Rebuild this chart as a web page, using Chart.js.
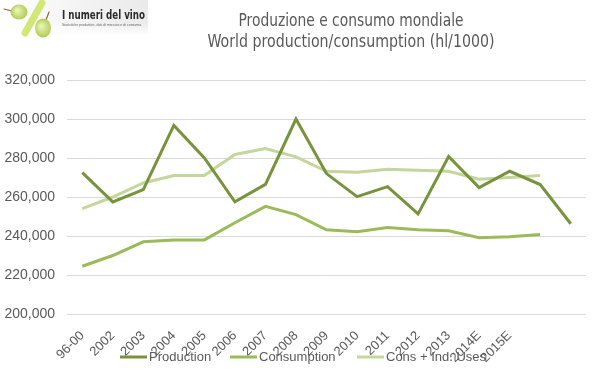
<!DOCTYPE html>
<html>
<head>
<meta charset="utf-8">
<script src="https://cdn.jsdelivr.net/npm/chart.js@4.4.1/dist/chart.umd.min.js"></script>
<style>
  html, body { margin: 0; padding: 0; background: #fff; }
  #wrap { width: 599px; height: 378px; position: relative; }
</style>
</head>
<body>
<div id="wrap"><canvas id="c" width="599" height="378"></canvas></div>
<script>
const categories = ['96-00','2002','2003','2004','2005','2006','2007','2008','2009','2010','2011','2012','2013','2014E','2015E','',''];
const production = [272500,257500,263800,296700,280000,257500,266500,300000,272000,260200,265300,251300,280800,264800,273200,266400,246300];
const consumption = [224500,230000,237000,238000,238000,246800,255200,251000,243200,242200,244300,243200,242700,239100,239600,240800];
const consIndUses = [254000,260000,267200,271000,271000,281800,284900,280600,273200,272700,274200,273700,273200,269100,270000,271000];
const yTicks = [200000,220000,240000,260000,280000,300000,320000];
const titleLines = ['Produzione e consumo mondiale','World production/consumption (hl/1000)'];
const seriesNames = ['Production','Consumption','Cons + Ind. Uses'];
const seriesColors = ['#77933c','#9bbb59','#c3d69b'];

const narrow = '"Liberation Sans Narrow", "DejaVu Sans Condensed", "Roboto Condensed", sans-serif';
const sans = '"Liberation Sans", Arial, sans-serif';

// draw text squeezed horizontally to a target width
function fitText(ctx, text, x, y, targetW, align) {
  const w = ctx.measureText(text).width;
  const k = Math.min(1, targetW / w);
  ctx.save();
  ctx.translate(x, y);
  ctx.scale(k, 1);
  ctx.textAlign = align;
  ctx.fillText(text, 0, 0);
  ctx.restore();
}

const decorPlugin = {
  id: 'decor',
  beforeDraw(chart) {
    const ctx = chart.ctx;
    ctx.save();
    // logo background
    const g = ctx.createLinearGradient(0, 0, 148, 0);
    g.addColorStop(0, '#ffffff');
    g.addColorStop(1, '#eaeaea');
    ctx.fillStyle = g;
    ctx.fillRect(0, 0, 148, 34);
    const g2 = ctx.createLinearGradient(0, 22, 0, 36);
    g2.addColorStop(0, 'rgba(255,255,255,0)');
    g2.addColorStop(1, 'rgba(255,255,255,1)');
    ctx.fillStyle = g2;
    ctx.fillRect(0, 22, 148, 14);
    // diagonal bar
    ctx.strokeStyle = '#d2e775';
    ctx.lineWidth = 7;
    ctx.lineCap = 'round';
    ctx.beginPath();
    ctx.moveTo(42, 3);
    ctx.lineTo(25, 33);
    ctx.stroke();
    // stems
    ctx.strokeStyle = '#8a6a3a';
    ctx.lineWidth = 1.2;
    ctx.beginPath();
    ctx.moveTo(4, 9); ctx.lineTo(12, 11);
    ctx.moveTo(46, 20); ctx.lineTo(49, 12);
    ctx.stroke();
    // grapes
    const grape = (x, y, rx, ry) => {
      const rg = ctx.createRadialGradient(x - 2, y - 2, 1, x, y, Math.max(rx, ry));
      rg.addColorStop(0, '#e8f3b2');
      rg.addColorStop(1, '#aecb52');
      ctx.fillStyle = rg;
      ctx.beginPath();
      ctx.ellipse(x, y, rx, ry, 0, 0, Math.PI * 2);
      ctx.fill();
    };
    grape(19, 12, 8.5, 7.5);
    grape(43, 28, 8, 9.5);
    // logo text
    ctx.fillStyle = '#2b2b2b';
    ctx.font = 'bold 12px ' + narrow;
    ctx.textBaseline = 'alphabetic';
    fitText(ctx, 'I numeri del vino', 62, 18.5, 83, 'left');
    ctx.fillStyle = '#666';
    ctx.font = '3.5px ' + sans;
    fitText(ctx, 'Statistiche produttive, dati di mercato e di consumo.', 62, 25.5, 83, 'left');
    // title
    ctx.fillStyle = '#595959';
    ctx.font = '17px ' + narrow;
    fitText(ctx, titleLines[0], 351, 25.5, 225, 'center');
    fitText(ctx, titleLines[1], 351, 47, 287, 'center');
    ctx.restore();
  },
  afterDraw(chart) {
    const ctx = chart.ctx;
    ctx.save();
    ctx.font = '13px ' + sans;
    ctx.textBaseline = 'middle';
    ctx.textAlign = 'left';
    const y = 357;
    const starts = [120, 230, 357];
    chart.data.datasets.forEach((ds, i) => {
      const x = starts[i];
      ctx.strokeStyle = ds.borderColor;
      ctx.lineWidth = 3;
      ctx.beginPath();
      ctx.moveTo(x, y);
      ctx.lineTo(x + 27, y);
      ctx.stroke();
      ctx.fillStyle = '#595959';
      ctx.fillText(ds.label, x + 29, y);
    });
    ctx.restore();
  }
};

new Chart(document.getElementById('c'), {
  type: 'line',
  data: {
    labels: categories,
    datasets: [
      { label: seriesNames[0], data: production, borderColor: seriesColors[0], backgroundColor: seriesColors[0], borderWidth: 3, pointRadius: 0, tension: 0, fill: false },
      { label: seriesNames[1], data: consumption, borderColor: seriesColors[1], backgroundColor: seriesColors[1], borderWidth: 3, pointRadius: 0, tension: 0, fill: false },
      { label: seriesNames[2], data: consIndUses, borderColor: seriesColors[2], backgroundColor: seriesColors[2], borderWidth: 3, pointRadius: 0, tension: 0, fill: false }
    ]
  },
  options: {
    responsive: false,
    animation: false,
    layout: { padding: { top: 80, right: 13, bottom: 0, left: 0 } },
    plugins: { legend: { display: false }, title: { display: false }, tooltip: { enabled: false } },
    scales: {
      x: {
        type: 'category',
        offset: true,
        grid: { display: false, drawTicks: false },
        border: { display: false },
        ticks: {
          autoSkip: false, maxRotation: 45, minRotation: 45, padding: 14,
          color: '#595959', font: { family: sans, size: 13 }
        },
        afterFit(s) { s.height = 64; }
      },
      y: {
        min: 200000, max: 320000,
        afterBuildTicks(s) { s.ticks = yTicks.map(v => ({ value: v })); },
        grid: { color: '#d9d9d9', lineWidth: 1, drawTicks: false },
        border: { display: false },
        ticks: {
          padding: 12, color: '#595959', font: { family: sans, size: 14 },
          callback: v => v.toLocaleString('en-US')
        },
        afterFit(s) { s.width = 67; }
      }
    }
  },
  plugins: [decorPlugin]
});
</script>
</body>
</html>
